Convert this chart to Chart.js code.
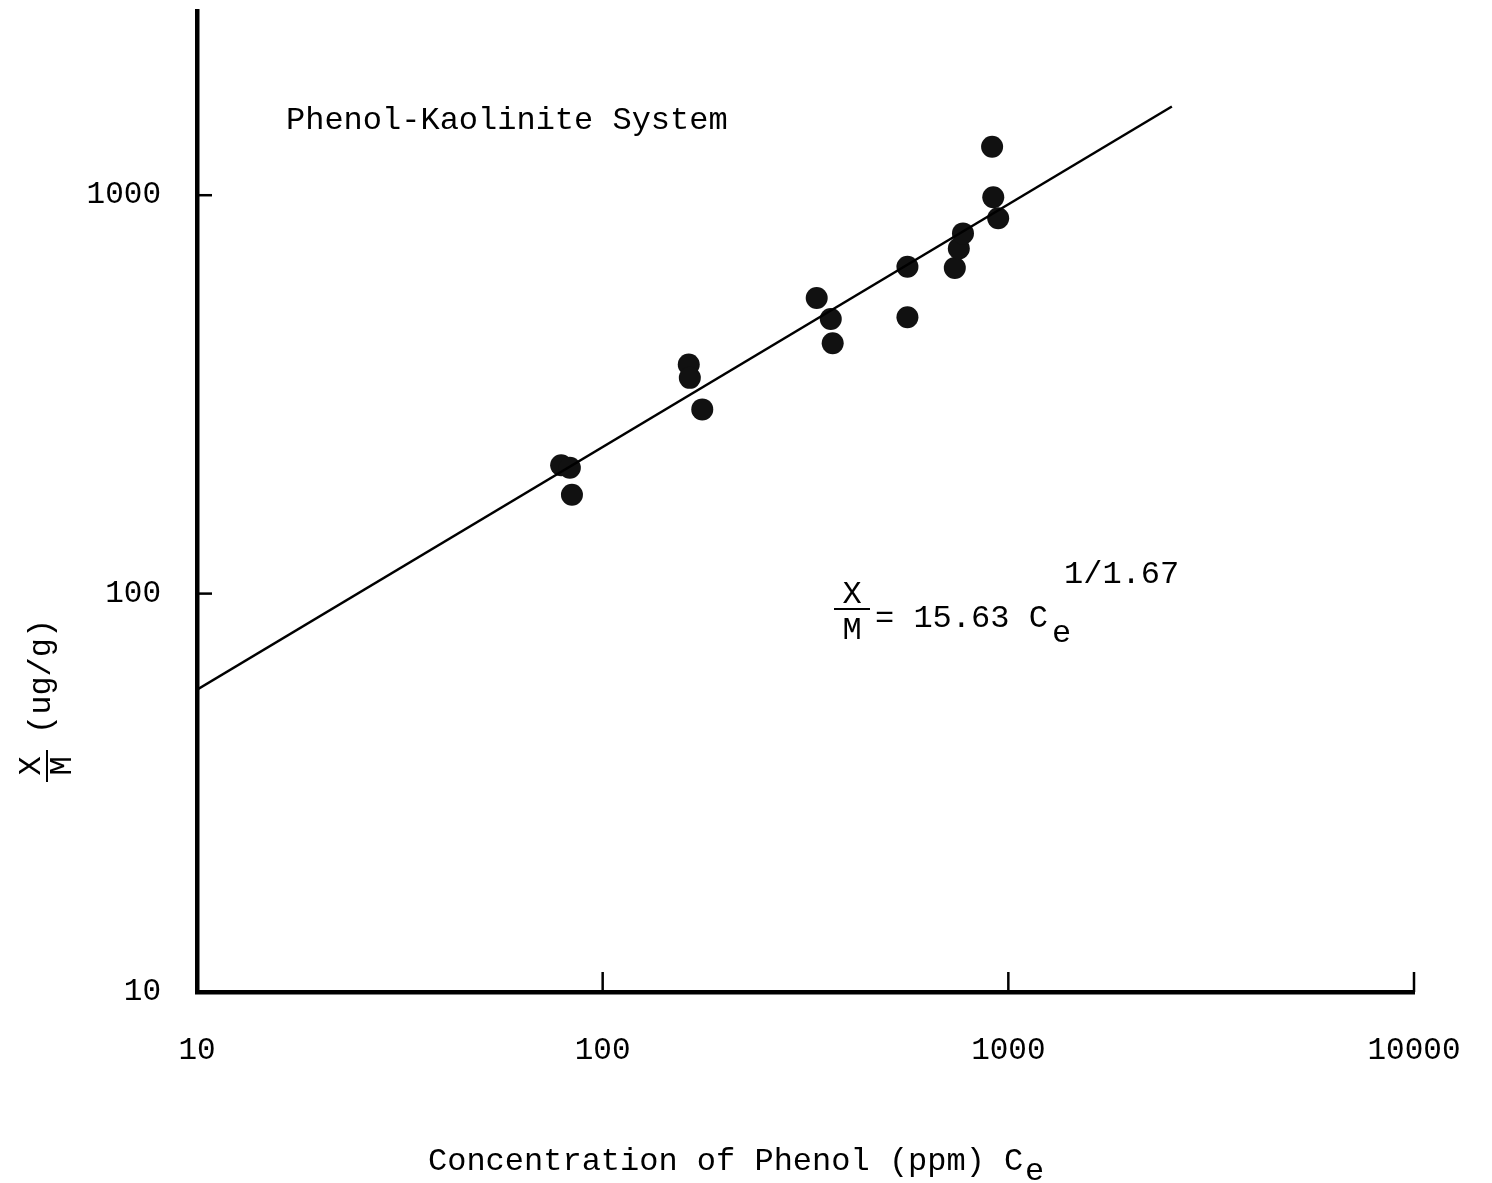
<!DOCTYPE html>
<html>
<head>
<meta charset="utf-8">
<script src="https://cdn.jsdelivr.net/npm/chart.js@4/dist/chart.umd.min.js"></script>
<style>
  html, body { margin: 0; padding: 0; background: #fff; }
  #wrap { width: 1492px; height: 1183px; }
</style>
</head>
<body>
<div id="wrap"><canvas id="c" width="1492" height="1183"></canvas></div>
<script>
// ---- data ----
const concentration = [79, 83, 84, 163, 164, 176, 337, 365, 369, 564, 564, 738, 755, 773, 912, 918, 944];
const adsorbed      = [210, 207, 177, 376, 348, 290, 552, 489, 425, 661, 494, 657, 735, 802, 1323, 988, 875];
const fitX = [10, 2530];
const fitY = [57.4, 1670];
const xTicks = [10, 100, 1000, 10000];
const yTicks = [10, 100, 1000];
const xRange = [10, 10000];
const yRange = [10, 2900];

const FONT = '"Liberation Mono", "DejaVu Sans Mono", monospace';

const scatterData = concentration.map((c, i) => ({ x: c, y: adsorbed[i] }));
const fitData = fitX.map((c, i) => ({ x: c, y: fitY[i] }));

function noPad(s) { s.paddingTop = 0; s.paddingBottom = 0; s.paddingLeft = 0; s.paddingRight = 0; }

const decor = {
  id: 'decor',
  afterDraw(chart) {
    const ctx = chart.ctx;
    const xs = chart.scales.x, ys = chart.scales.y;
    const ca = chart.chartArea;
    ctx.save();
    ctx.strokeStyle = '#000';
    ctx.fillStyle = '#000';
    // inward ticks
    ctx.lineWidth = 2.5;
    [100, 1000].forEach(v => {
      const py = ys.getPixelForValue(v);
      ctx.beginPath(); ctx.moveTo(ca.left, py); ctx.lineTo(ca.left + 15, py); ctx.stroke();
    });
    [100, 1000, 10000].forEach(v => {
      const px = xs.getPixelForValue(v);
      ctx.beginPath(); ctx.moveTo(px, ca.bottom); ctx.lineTo(px, ca.bottom - 20); ctx.stroke();
    });

    ctx.font = '32px ' + FONT;
    ctx.textBaseline = 'middle';
    ctx.textAlign = 'left';
    // title
    ctx.fillText('Phenol-Kaolinite System', ca.left + 89, ca.top + 110);

    // equation
    const ex = ca.left + 655, ey = ca.top + 606;
    ctx.textAlign = 'center';
    ctx.fillText('X', ex, ey - 22);
    ctx.lineWidth = 2;
    ctx.beginPath(); ctx.moveTo(ex - 18, ey - 8); ctx.lineTo(ex + 18, ey - 8); ctx.stroke();
    ctx.fillText('M', ex, ey + 14);
    ctx.textAlign = 'left';
    ctx.fillText('= 15.63 C', ex + 23, ey + 2);
    ctx.fillText('e', ex + 200, ey + 17);
    ctx.fillText('1/1.67', ex + 212, ey - 42);

    // x axis title
    const tx = ca.left + 231, ty = ca.bottom + 170;
    ctx.fillText('Concentration of Phenol (ppm) C', tx, ty);
    ctx.fillText('e', tx + 597, ty + 10);

    // y axis title (rotated)
    ctx.save();
    ctx.translate(47, ca.top + 755);
    ctx.rotate(-Math.PI / 2);
    ctx.textAlign = 'center';
    ctx.fillText('X', 0, -15);
    ctx.lineWidth = 2;
    ctx.beginPath(); ctx.moveTo(-16, 0); ctx.lineTo(16, 0); ctx.stroke();
    ctx.fillText('M', 0, 16);
    ctx.textAlign = 'left';
    ctx.fillText('(ug/g)', 32, -5);
    ctx.restore();

    ctx.restore();
  }
};

new Chart(document.getElementById('c'), {
  type: 'scatter',
  data: {
    datasets: [
      {
        type: 'line',
        data: fitData,
        borderColor: '#000',
        borderWidth: 2.5,
        pointRadius: 0,
        fill: false,
        tension: 0
      },
      {
        type: 'scatter',
        data: scatterData,
        backgroundColor: '#111',
        borderColor: '#111',
        borderWidth: 0,
        pointRadius: 11
      }
    ]
  },
  options: {
    responsive: false,
    animation: false,
    devicePixelRatio: 1,
    layout: { padding: { top: 10, right: 78, left: 0, bottom: 0 } },
    plugins: { legend: { display: false }, tooltip: { enabled: false } },
    scales: {
      x: {
        type: 'logarithmic',
        min: xRange[0], max: xRange[1],
        afterBuildTicks: s => { s.ticks = xTicks.map(v => ({ value: v })); },
        afterFit: s => { s.height = 191; noPad(s); },
        grid: { display: false, drawTicks: false },
        border: { display: true, color: '#000', width: 4.5 },
        ticks: {
          autoSkip: false, maxRotation: 0,
          color: '#000', padding: 40,
          font: { family: FONT, size: 31 },
          callback: v => String(v)
        }
      },
      y: {
        type: 'logarithmic',
        min: yRange[0], max: yRange[1],
        afterBuildTicks: s => { s.ticks = yTicks.map(v => ({ value: v })); },
        afterFit: s => { s.width = 197; noPad(s); },
        grid: { display: false, drawTicks: false },
        border: { display: true, color: '#000', width: 4.5 },
        ticks: {
          autoSkip: false,
          color: '#000', padding: 36,
          font: { family: FONT, size: 31 },
          callback: v => String(v)
        }
      }
    }
  },
  plugins: [decor]
});
</script>
</body>
</html>
